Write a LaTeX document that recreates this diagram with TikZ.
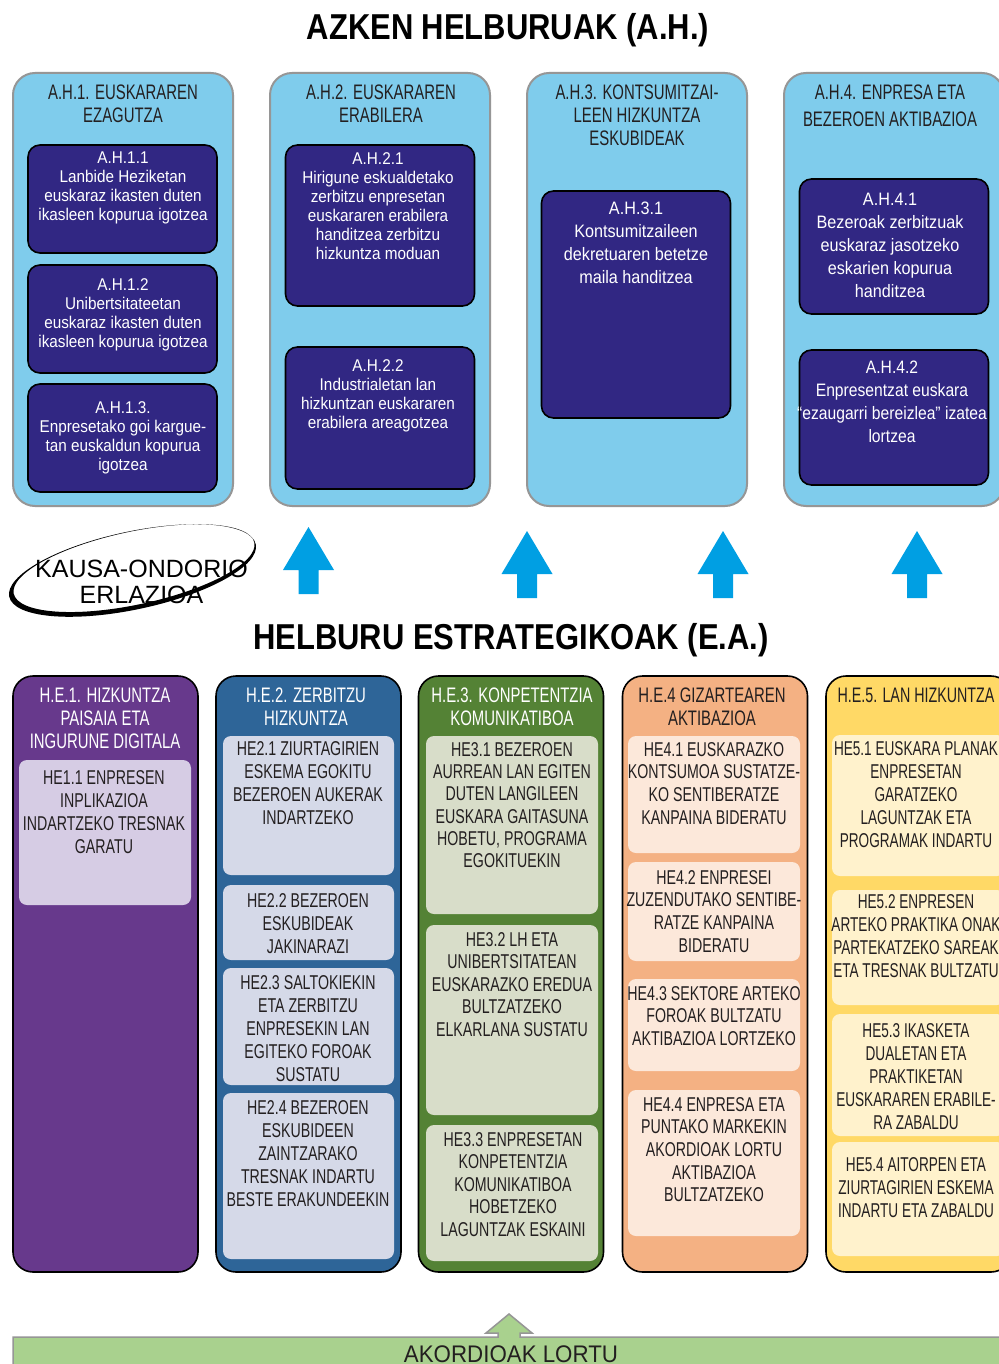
\documentclass[tikz,border=0pt]{standalone}
\usepackage{fontspec}
\setmainfont{Liberation Sans}
\newfontfamily\fcap[FakeStretch=0.71]{Liberation Sans}
\newfontfamily\fcapn[FakeStretch=0.68]{Liberation Sans}
\newfontfamily\flow[FakeStretch=0.9]{Liberation Sans}
\newfontfamily\flown[FakeStretch=0.87]{Liberation Sans}
\newfontfamily\ftit[FakeStretch=0.86]{Liberation Sans}
\newfontfamily\fmid[FakeStretch=0.93]{Liberation Sans}
\newfontfamily\fell[FakeStretch=1.0]{Liberation Sans}
\definecolor{ahblue}{RGB}{127,204,236}
\definecolor{navy}{RGB}{49,39,131}
\definecolor{panelgray}{RGB}{150,150,150}
\definecolor{txtdark}{RGB}{35,31,32}
\definecolor{heA}{RGB}{103,57,140}
\definecolor{heAbox}{RGB}{214,204,228}
\definecolor{heB}{RGB}{46,101,152}
\definecolor{heBbox}{RGB}{213,217,232}
\definecolor{heC}{RGB}{84,130,53}
\definecolor{heCbox}{RGB}{216,221,201}
\definecolor{heD}{RGB}{244,177,131}
\definecolor{heDbox}{RGB}{252,232,218}
\definecolor{heE}{RGB}{255,217,102}
\definecolor{heEbox}{RGB}{255,242,204}
\definecolor{arrowblue}{RGB}{0,159,227}
\definecolor{barGreen}{RGB}{169,209,142}
\begin{document}
\begin{tikzpicture}[x=1pt,y=-1pt,
  ahpanel/.style={draw=panelgray, line width=2pt, fill=ahblue, rounded corners=22pt, inner sep=0pt, minimum width=220pt, minimum height=433pt},
  navybox/.style={draw=black, line width=1.6pt, fill=navy, rounded corners=12pt, inner sep=0pt, minimum width=189pt},
  hepanel/.style={draw=black, line width=1.6pt, rounded corners=20pt, inner sep=0pt, minimum width=185pt, minimum height=596pt},
  hebox/.style={rounded corners=8pt, inner sep=0pt},
  bigtitle/.style={anchor=base, inner sep=0pt, font=\ftit\bfseries\fontsize{36}{40}\selectfont, text=black},
  ahhdr/.style={anchor=north, inner sep=0pt, align=center, font=\fcap\fontsize{21}{23}\selectfont, text=txtdark},
  navytxt/.style={anchor=north, inner sep=0pt, align=center, font=\flow\fontsize{17}{19}\selectfont, text=white},
  navytxtb/.style={anchor=north, inner sep=0pt, align=center, font=\flow\fontsize{18}{23}\selectfont, text=white},
  hehdr/.style={anchor=north, inner sep=0pt, align=center, font=\fcap\fontsize{21}{23}\selectfont},
  hetxt/.style={anchor=north, inner sep=0pt, align=center, font=\fcap\fontsize{20}{23}\selectfont, text=txtdark},
  blockup/.pic={\fill[arrowblue] (0,0) -- (25.5,43) -- (10,43) -- (10,67) -- (-10,67) -- (-10,43) -- (-25.5,43) -- cycle;}
]
\useasboundingbox (0,0) rectangle (998,1364);
\fill[white] (0,0) rectangle (998,1364);

% ---------- title ----------
\node[bigtitle] (title1) at (508,40) {AZKEN HELBURUAK (A.H.)};

% ---------- top panels ----------
\node[ahpanel] (p1) at (123,289.5) {};
\node[ahpanel] (p2) at (380,289.5) {};
\node[ahpanel] (p3) at (637,289.5) {};
\node[ahpanel] (p4) at (894,289.5) {};

\node[ahhdr] (h1) at (123,84.5) {A.H.1. EUSKARAREN\\EZAGUTZA};
\node[ahhdr] (h2) at (381,84.5) {A.H.2. EUSKARAREN\\ERABILERA};
\node[ahhdr] (h3) at (637,84.5) {A.H.3. KONTSUMITZAI-\\LEEN HIZKUNTZA\\ESKUBIDEAK};
\node[ahhdr, font=\fcap\fontsize{21}{27}\selectfont] (h4) at (890,84.5) {A.H.4. ENPRESA ETA\\BEZEROEN AKTIBAZIOA};

\node[navybox, minimum height=108pt] (b11) at (122.5,199) {};
\node[navybox, minimum height=108pt] (b12) at (122.5,319) {};
\node[navybox, minimum height=108pt] (b13) at (122.5,438) {};
\node[navybox, minimum height=161pt] (b21) at (380,225.5) {};
\node[navybox, minimum height=142pt] (b22) at (380,418) {};
\node[navybox, minimum height=227pt] (b31) at (636,304.5) {};
\node[navybox, minimum height=135pt] (b41) at (894,246.5) {};
\node[navybox, minimum height=135pt] (b42) at (894,417.5) {};

\node[navytxt] (t11) at (123,152) {A.H.1.1\\Lanbide Heziketan\\euskaraz ikasten duten\\ikasleen kopurua igotzea};
\node[navytxt] (t12) at (123,278) {A.H.1.2\\Unibertsitateetan\\euskaraz ikasten duten\\ikasleen kopurua igotzea};
\node[navytxt] (t13) at (123,401) {A.H.1.3.\\Enpresetako goi kargue-\\tan euskaldun kopurua\\igotzea};
\node[navytxt] (t21) at (378,152) {A.H.2.1\\Hirigune eskualdetako\\zerbitzu enpresetan\\euskararen erabilera\\handitzea zerbitzu\\hizkuntza moduan};
\node[navytxt] (t22) at (378,359) {A.H.2.2\\Industrialetan lan\\hizkuntzan euskararen\\erabilera areagotzea};
\node[navytxtb] (t31) at (636,201.5) {A.H.3.1\\Kontsumitzaileen\\dekretuaren betetze\\maila handitzea};
\node[navytxtb] (t41) at (890,192.5) {A.H.4.1\\Bezeroak zerbitzuak\\euskaraz jasotzeko\\eskarien kopurua\\handitzea};
\node[navytxtb, font=\flown\fontsize{18}{23}\selectfont] (t42) at (892,360.5) {A.H.4.2\\Enpresentzat euskara\\“ezaugarri bereizlea” izatea\\lortzea};

% ---------- blue arrows ----------
\pic at (308.5,527) {blockup};
\pic at (527,531) {blockup};
\pic at (723,531) {blockup};
\pic at (917,531) {blockup};

% ---------- ellipse ----------
\fill[black, even odd rule, rotate around={12:(132.5,570.5)}]
  (132.5,570.5) ellipse [x radius=126, y radius=39]
  (134.5,568.5) ellipse [x radius=123, y radius=36.5];
\node[inner sep=0pt, align=center, font=\fell\fontsize{25}{26}\selectfont, anchor=north] (causal) at (141.5,560) {KAUSA-ONDORIO\\ERLAZIOA};

% ---------- second title ----------
\node[bigtitle] (title2) at (511,649) {HELBURU ESTRATEGIKOAK (E.A.)};

% ---------- bottom panels ----------
\node[hepanel, fill=heA] (q1) at (105.5,974) {};
\node[hepanel, fill=heB] (q2) at (308.5,974) {};
\node[hepanel, fill=heC] (q3) at (511,974) {};
\node[hepanel, fill=heD] (q4) at (715,974) {};
\node[hepanel, fill=heE] (q5) at (918.5,974) {};

\node[hehdr, text=white] (g1) at (105,687.5) {H.E.1. HIZKUNTZA\\PAISAIA ETA\\INGURUNE DIGITALA};
\node[hehdr, text=white] (g2) at (306,687.5) {H.E.2. ZERBITZU\\HIZKUNTZA};
\node[hehdr, text=white] (g3) at (512,687.5) {H.E.3. KONPETENTZIA\\KOMUNIKATIBOA};
\node[hehdr, text=txtdark] (g4) at (712,687.5) {H.E.4 GIZARTEAREN\\AKTIBAZIOA};
\node[hehdr, text=txtdark, font=\fcapn\fontsize{21}{23}\selectfont] (g5) at (916,687.5) {H.E.5. LAN HIZKUNTZA};

% inner boxes
\node[hebox, fill=heAbox, minimum width=172pt, minimum height=145pt] (e11) at (105,832.5) {};
\node[hebox, fill=heBbox, minimum width=171pt, minimum height=139pt] (e21) at (308.5,805.5) {};
\node[hebox, fill=heBbox, minimum width=171pt, minimum height=75pt] (e22) at (308.5,922.5) {};
\node[hebox, fill=heBbox, minimum width=171pt, minimum height=117pt] (e23) at (308.5,1026.5) {};
\node[hebox, fill=heBbox, minimum width=171pt, minimum height=166pt] (e24) at (308.5,1176) {};
\node[hebox, fill=heCbox, minimum width=172pt, minimum height=178pt] (e31) at (512,825) {};
\node[hebox, fill=heCbox, minimum width=172pt, minimum height=190pt] (e32) at (512,1020) {};
\node[hebox, fill=heCbox, minimum width=172pt, minimum height=136pt] (e33) at (512,1193) {};
\node[hebox, fill=heDbox, minimum width=172pt, minimum height=117pt] (e41) at (714,794.5) {};
\node[hebox, fill=heDbox, minimum width=172pt, minimum height=99pt] (e42) at (714,911.5) {};
\node[hebox, fill=heDbox, minimum width=172pt, minimum height=92pt] (e43) at (714,1025) {};
\node[hebox, fill=heDbox, minimum width=172pt, minimum height=146pt] (e44) at (714,1163) {};
\node[hebox, fill=heEbox, minimum width=173pt, minimum height=141pt] (e51) at (918.5,805.5) {};
\node[hebox, fill=heEbox, minimum width=173pt, minimum height=115pt] (e52) at (918.5,947.5) {};
\node[hebox, fill=heEbox, minimum width=173pt, minimum height=122pt] (e53) at (918.5,1075) {};
\node[hebox, fill=heEbox, minimum width=173pt, minimum height=114pt] (e54) at (918.5,1199) {};

% inner texts
\node[hetxt] (s11) at (104,770) {HE1.1 ENPRESEN\\INPLIKAZIOA\\INDARTZEKO TRESNAK\\GARATU};
\node[hetxt] (s21) at (308,741) {HE2.1 ZIURTAGIRIEN\\ESKEMA EGOKITU\\BEZEROEN AUKERAK\\INDARTZEKO};
\node[hetxt] (s22) at (308,893) {HE2.2 BEZEROEN\\ESKUBIDEAK\\JAKINARAZI};
\node[hetxt] (s23) at (308,975) {HE2.3 SALTOKIEKIN\\ETA ZERBITZU\\ENPRESEKIN LAN\\EGITEKO FOROAK\\SUSTATU};
\node[hetxt] (s24) at (308,1100) {HE2.4 BEZEROEN\\ESKUBIDEEN\\ZAINTZARAKO\\TRESNAK INDARTU\\BESTE ERAKUNDEEKIN};
\node[hetxt, font=\fcap\fontsize{20}{22.3}\selectfont] (s31) at (512,742) {HE3.1 BEZEROEN\\AURREAN LAN EGITEN\\DUTEN LANGILEEN\\EUSKARA GAITASUNA\\HOBETU, PROGRAMA\\EGOKITUEKIN};
\node[hetxt, font=\fcap\fontsize{20}{22.6}\selectfont] (s32) at (512,932) {HE3.2 LH ETA\\UNIBERTSITATEAN\\EUSKARAZKO EREDUA\\BULTZATZEKO\\ELKARLANA SUSTATU};
\node[hetxt, font=\fcap\fontsize{20}{22.5}\selectfont] (s33) at (513,1132) {HE3.3 ENPRESETAN\\KONPETENTZIA\\KOMUNIKATIBOA\\HOBETZEKO\\LAGUNTZAK ESKAINI};
\node[hetxt, font=\fcap\fontsize{20}{22.7}\selectfont] (s41) at (714,742) {HE4.1 EUSKARAZKO\\KONTSUMOA SUSTATZE-\\KO SENTIBERATZE\\KANPAINA BIDERATU};
\node[hetxt, font=\fcap\fontsize{20}{22.7}\selectfont] (s42) at (714,870) {HE4.2 ENPRESEI\\ZUZENDUTAKO SENTIBE-\\RATZE KANPAINA\\BIDERATU};
\node[hetxt, font=\fcap\fontsize{20}{22.7}\selectfont] (s43) at (714,986) {HE4.3 SEKTORE ARTEKO\\FOROAK BULTZATU\\AKTIBAZIOA LORTZEKO};
\node[hetxt, font=\fcap\fontsize{20}{22.7}\selectfont] (s44) at (714,1097) {HE4.4 ENPRESA ETA\\PUNTAKO MARKEKIN\\AKORDIOAK LORTU\\AKTIBAZIOA\\BULTZATZEKO};
\node[hetxt, font=\fcapn\fontsize{20}{23}\selectfont] (s51) at (916,741) {HE5.1 EUSKARA PLANAK\\ENPRESETAN\\GARATZEKO\\LAGUNTZAK ETA\\PROGRAMAK INDARTU};
\node[hetxt, font=\fcapn\fontsize{20}{23}\selectfont] (s52) at (916,894) {HE5.2 ENPRESEN\\ARTEKO PRAKTIKA ONAK\\PARTEKATZEKO SAREAK\\ETA TRESNAK BULTZATU};
\node[hetxt, font=\fcapn\fontsize{20}{23}\selectfont] (s53) at (916,1023) {HE5.3 IKASKETA\\DUALETAN ETA\\PRAKTIKETAN\\EUSKARAREN ERABILE-\\RA ZABALDU};
\node[hetxt, font=\fcapn\fontsize{20}{23}\selectfont] (s54) at (916,1157) {HE5.4 AITORPEN ETA\\ZIURTAGIRIEN ESKEMA\\INDARTU ETA ZABALDU};

% ---------- bottom green bar ----------
\draw[draw=panelgray, line width=1.5pt, fill=barGreen, line join=miter]
  (13,1390) -- (13,1337) -- (498,1337) -- (498,1333) -- (486,1333) -- (509,1314)
  -- (532,1333) -- (520,1333) -- (520,1337) -- (1010,1337) -- (1010,1390);
\node[inner sep=0pt, anchor=north, font=\fmid\fontsize{24}{26}\selectfont, text=txtdark] (bar) at (511,1346) {AKORDIOAK LORTU};
\end{tikzpicture}
\end{document}
